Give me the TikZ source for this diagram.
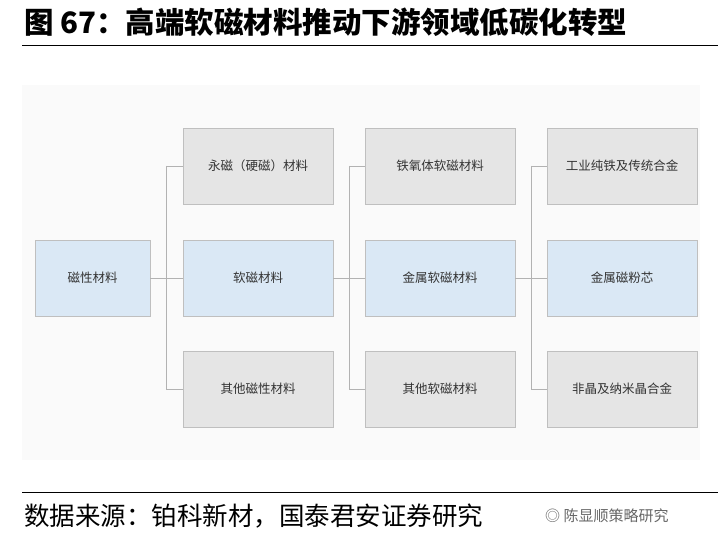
\documentclass[tikz,border=0pt]{standalone}
\usepackage{fontspec}
\setmainfont{Noto Sans CJK SC}
\definecolor{bfill}{HTML}{DAE8F5}
\begin{document}
\begin{tikzpicture}[x=1pt,y=-1pt,
 gbox/.style={draw=black!25,fill=black!10,minimum width=150pt,minimum height=76pt,font=\fontsize{12.5}{14}\selectfont,text=black!80},
 bbox/.style={draw=black!25,fill=bfill,minimum width=150pt,minimum height=76pt,font=\fontsize{12.5}{14}\selectfont,text=black!80},
 conn/.style={draw=black!30,line width=0.8pt}]
\useasboundingbox (0,0) rectangle (718,548);
\fill[black!2] (22,85) rectangle (700,460);
\node[font=\bfseries\fontsize{29.5}{31}\selectfont,anchor=west,inner sep=0pt] (title) at (24,22) {图 67：高端软磁材料推动下游领域低碳化转型};
\draw[line width=0.8pt] (22,45) -- (718,45);
\node[bbox,minimum width=115pt] (a) at (92.5,278) {磁性材料};
\node[gbox] (b1) at (258,166) {永磁（硬磁）材料};
\node[bbox] (b2) at (258,278) {软磁材料};
\node[gbox] (b3) at (258,389) {其他磁性材料};
\node[gbox] (c1) at (440,166) {铁氧体软磁材料};
\node[bbox] (c2) at (440,278) {金属软磁材料};
\node[gbox] (c3) at (440,389) {其他软磁材料};
\node[gbox] (d1) at (622,166) {工业纯铁及传统合金};
\node[bbox] (d2) at (622,278) {金属磁粉芯};
\node[gbox] (d3) at (622,389) {非晶及纳米晶合金};
\foreach \s/\t/\xm in {a/b/166,b2/c/349,c2/d/531}{
 \draw[conn] (\s.east) -- (\xm,278);
 \draw[conn] (\xm,166) -- (\xm,389);
 \draw[conn] (\xm,166) -- (\t1.west);
 \draw[conn] (\xm,278) -- (\t2.west);
 \draw[conn] (\xm,389) -- (\t3.west);
}
\draw[line width=0.8pt] (22,492) -- (718,492);
\node[anchor=west,font=\fontsize{25.5}{27}\selectfont,inner sep=0pt] (src) at (24,516) {数据来源：铂科新材，国泰君安证券研究};
\node[anchor=west,font=\fontsize{15}{17}\selectfont,text=black!60,inner sep=0pt] (wm) at (545,516) {◎ 陈显顺策略研究};
\end{tikzpicture}
\end{document}
